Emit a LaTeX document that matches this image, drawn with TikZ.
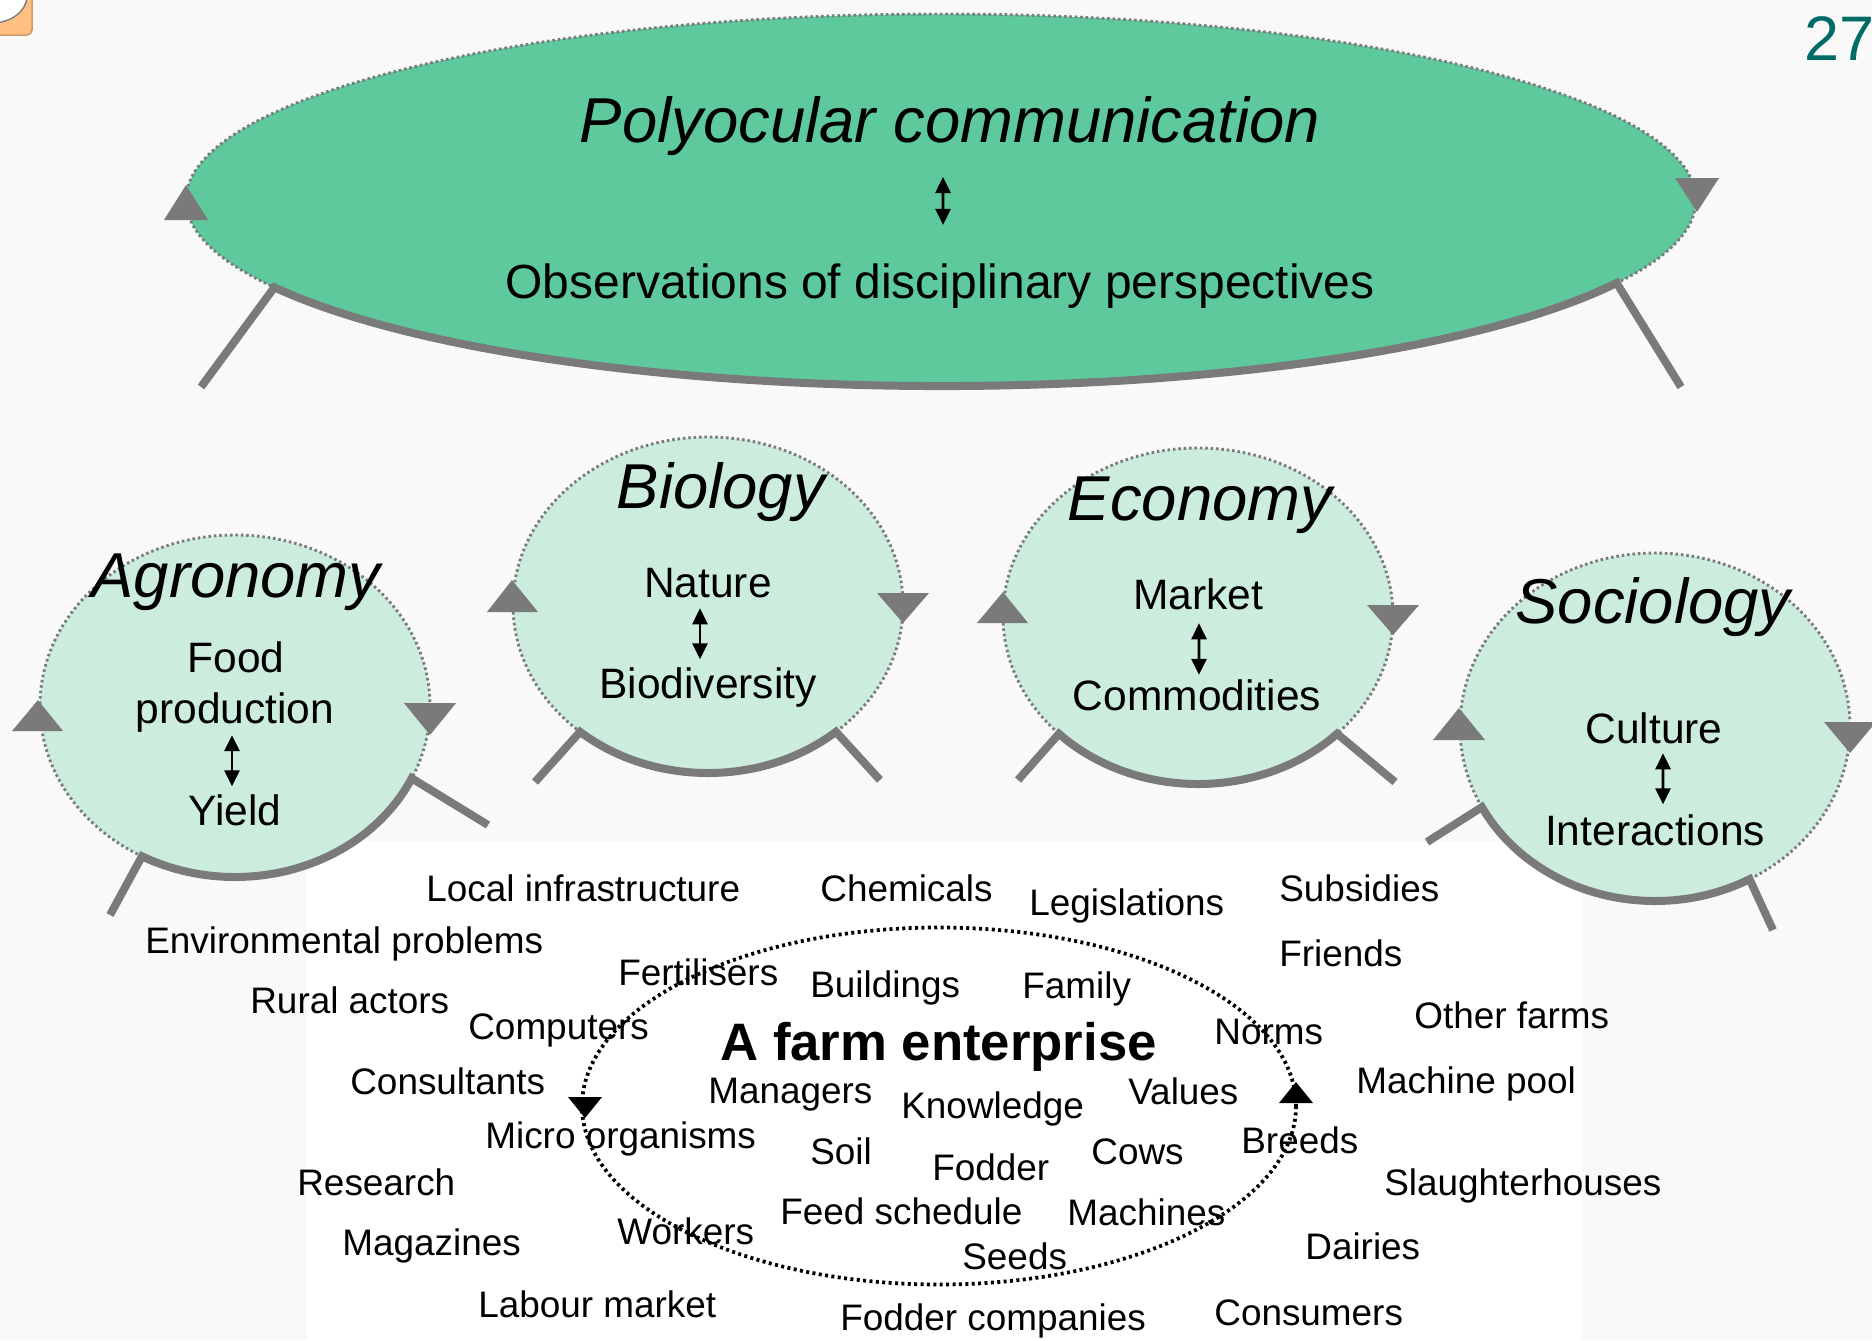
\documentclass[tikz,border=0pt]{standalone}
\usepackage{fontspec}
\setmainfont{Liberation Sans}
\usetikzlibrary{arrows.meta}
\definecolor{pagegrey}{HTML}{F9F9F9}
\definecolor{seagreen}{HTML}{5EC99C}
\definecolor{mint}{HTML}{CCEDDD}
\definecolor{rimgrey}{HTML}{7A7A7A}
\definecolor{pageteal}{HTML}{006B66}
\definecolor{noteorange}{HTML}{FFC080}
\definecolor{notebrown}{HTML}{C99A6E}

\begin{document}
\begin{tikzpicture}[x=0.02cm, y=-0.02cm,
		rim/.style={draw=rimgrey, line width=0.16cm},
		seam/.style={draw=rimgrey, line width=0.058cm, dash pattern=on 0.05cm off 0.058cm},
		ring/.style={draw=black, line width=0.075cm, dash pattern=on 0.06cm off 0.068cm},
		dart/.style={fill=rimgrey},
		field/.style={font=\fontsize{36.1}{43}\selectfont\itshape, inner sep=0pt, anchor=base},
		view/.style={font=\fontsize{24.2}{29}\selectfont, inner sep=0pt, anchor=base},
		item/.style={font=\fontsize{21}{25}\selectfont, inner sep=0pt, anchor=base west},
		twoway/.style={{Triangle[length=0.32cm, width=0.3cm]}-{Triangle[length=0.32cm, width=0.3cm]}, line width=0.054cm}]

	\useasboundingbox (0,0) rectangle (1872,1340);
	\clip (0,0) rectangle (1872,1340);
	\fill[pagegrey] (0,0) rectangle (1872,1340);
	\fill[white] (307,842) rectangle (1582,1340);

	\filldraw[fill=noteorange, draw=notebrown, line width=0.03cm, rounded corners=0.1cm] (-10,-10) rectangle (32,35);
	\filldraw[fill=white, draw=gray, line width=0.03cm] (-8,-4) ellipse [x radius=35, y radius=27];

	\fill[seagreen] (941,200) ellipse [x radius=755, y radius=186];
	\draw[seam] (941,200) ellipse [x radius=755, y radius=186];
	\draw[rim] (201,387) -- ([shift={(152:755 and 186)}]941,200) arc[start angle=152, end angle=26.5, x radius=755, y radius=186] -- (1681,387);
	\fill[dart] (186,185) -- ++(22,35) -- ++(-44,0) -- cycle;
	\fill[dart] (1697,212) -- ++(22,-34) -- ++(-44,0) -- cycle;

	\fill[mint] (235,706) ellipse [x radius=195, y radius=171];
	\draw[seam] (235,706) ellipse [x radius=195, y radius=171];
	\draw[rim] (110,915) -- ([shift={(118.5:195 and 171)}]235,706) arc[start angle=118.5, end angle=25, x radius=195, y radius=171] -- (488,825);
	\fill[dart] (38,700) -- ++(25,31) -- ++(-51,0) -- cycle;
	\fill[dart] (430,735) -- ++(26,-32) -- ++(-52,0) -- cycle;

	\fill[mint] (708,605) ellipse [x radius=195, y radius=168];
	\draw[seam] (708,605) ellipse [x radius=195, y radius=168];
	\draw[rim] (535,782) -- ([shift={(131:195 and 168)}]708,605) arc[start angle=131, end angle=49, x radius=195, y radius=168] -- (880,780);
	\fill[dart] (512,580) -- ++(26,32) -- ++(-51,0) -- cycle;
	\fill[dart] (903,623) -- ++(26,-30) -- ++(-52,0) -- cycle;

	\fill[mint] (1198,616) ellipse [x radius=195, y radius=168];
	\draw[seam] (1198,616) ellipse [x radius=195, y radius=168];
	\draw[rim] (1018,780) -- ([shift={(135.5:195 and 168)}]1198,616) arc[start angle=135.5, end angle=44.5, x radius=195, y radius=168] -- (1395,782);
	\fill[dart] (1003,592) -- ++(25,31) -- ++(-51,0) -- cycle;
	\fill[dart] (1393,635) -- ++(26,-30) -- ++(-52,0) -- cycle;

	\fill[mint] (1655,727) ellipse [x radius=195, y radius=174];
	\draw[seam] (1655,727) ellipse [x radius=195, y radius=174];
	\draw[rim] (1427,842) -- ([shift={(152.6:195 and 174)}]1655,727) arc[start angle=152.6, end angle=61, x radius=195, y radius=174] -- (1773,930);
	\fill[dart] (1459,708) -- ++(26,32) -- ++(-52,0) -- cycle;
	\fill[dart] (1850,753) -- ++(26,-31) -- ++(-52,0) -- cycle;

	\node[field] (poly) at (950,142) {Polyocular communication};
	\node[font=\fontsize{27.3}{33}\selectfont, inner sep=0pt, anchor=base] (obs) at (940,298) {Observations of disciplinary perspectives};
	\draw[twoway, shorten <=0.43cm, shorten >=0.76cm] ([xshift=-0.14cm]poly.south) -- ([xshift=0.06cm]obs.north);

	\node[field] (agro) at (236,597) {Agronomy};
	\node[view] (food) at (236,672) {Food};
	\node[view] (prod) at (235,723) {production};
	\node[view] (yield) at (235,825) {Yield};
	\draw[twoway, shorten <=0.06cm, shorten >=0.15cm] ([xshift=-0.06cm]prod.south) -- ([xshift=-0.06cm]yield.north);

	\node[field] (bio) at (721,508) {Biology};
	\node[view] (nature) at (708,597) {Nature};
	\node[view] (biodiv) at (708,698) {Biodiversity};
	\draw[twoway, shorten <=0.21cm, shorten >=0.15cm] ([xshift=-0.16cm]nature.south) -- ([xshift=-0.16cm]biodiv.north);

	\node[field] (eco) at (1200,520) {Economy};
	\node[view] (market) at (1198,609) {Market};
	\node[view] (goods) at (1197,710) {Commodities};
	\draw[twoway, shorten <=0.27cm, shorten >=0.08cm] ([xshift=0.02cm]market.south) -- ([xshift=0.04cm]goods.north);

	\node[field] (socio) at (1653,623) {Sociology};
	\node[view] (culture) at (1654,743) {Culture};
	\node[view] (interact) at (1655,845) {Interactions};
	\draw[twoway, shorten <=0.19cm, shorten >=0.19cm] ([xshift=0.18cm]culture.south) -- ([xshift=0.16cm]interact.north);

	\draw[ring] (939,1106) ellipse [x radius=357, y radius=178.5];
	\fill (585,1118) -- ++(17,-21) -- ++(-34,0) -- cycle;
	\fill (1296,1082) -- ++(17,21) -- ++(-34,0) -- cycle;

	\node[item, font=\fontsize{30}{36}\selectfont\bfseries] (farm) at (720,1060) {A farm enterprise};
	\node[item] (infra) at (426,901) {Local infrastructure};
	\node[item] (chem) at (820,901) {Chemicals};
	\node[item] (legis) at (1029,915) {Legislations};
	\node[item] (subs) at (1279,901) {Subsidies};
	\node[item] (envir) at (145,953) {Environmental problems};
	\node[item] (friends) at (1279,966) {Friends};
	\node[item] (fert) at (618,985) {Fertilisers};
	\node[item] (build) at (810,997) {Buildings};
	\node[item] (family) at (1022,998) {Family};
	\node[item] (rural) at (250,1013) {Rural actors};
	\node[item] (others) at (1414,1028) {Other farms};
	\node[item] (comp) at (468,1039) {Computers};
	\node[item] (norms) at (1214,1044) {Norms};
	\node[item] (pool) at (1356,1093) {Machine pool};
	\node[item] (consult) at (350,1094) {Consultants};
	\node[item] (manag) at (708,1103) {Managers};
	\node[item] (values) at (1128,1104) {Values};
	\node[item] (know) at (901,1118) {Knowledge};
	\node[item] (micro) at (485,1148) {Micro organisms};
	\node[item] (soil) at (810,1164) {Soil};
	\node[item] (cows) at (1091,1164) {Cows};
	\node[item] (breeds) at (1241,1153) {Breeds};
	\node[item] (fodder) at (932,1180) {Fodder};
	\node[item] (research) at (297,1195) {Research};
	\node[item] (slaught) at (1384,1195) {Slaughterhouses};
	\node[item] (schedule) at (780,1224) {Feed schedule};
	\node[item] (machines) at (1067,1225) {Machines};
	\node[item] (workers) at (617,1244) {Workers};
	\node[item] (mags) at (342,1255) {Magazines};
	\node[item] (dairies) at (1305,1259) {Dairies};
	\node[item] (seeds) at (962,1269) {Seeds};
	\node[item] (labour) at (478,1317) {Labour market};
	\node[item] (suppliers) at (840,1330) {Fodder companies};
	\node[item] (consum) at (1214,1325) {Consumers};

	\node[font=\fontsize{35.8}{43}\selectfont, text=pageteal, inner sep=0pt, anchor=base west] (slide) at (1804,60) {27};

\end{tikzpicture}
\end{document}
